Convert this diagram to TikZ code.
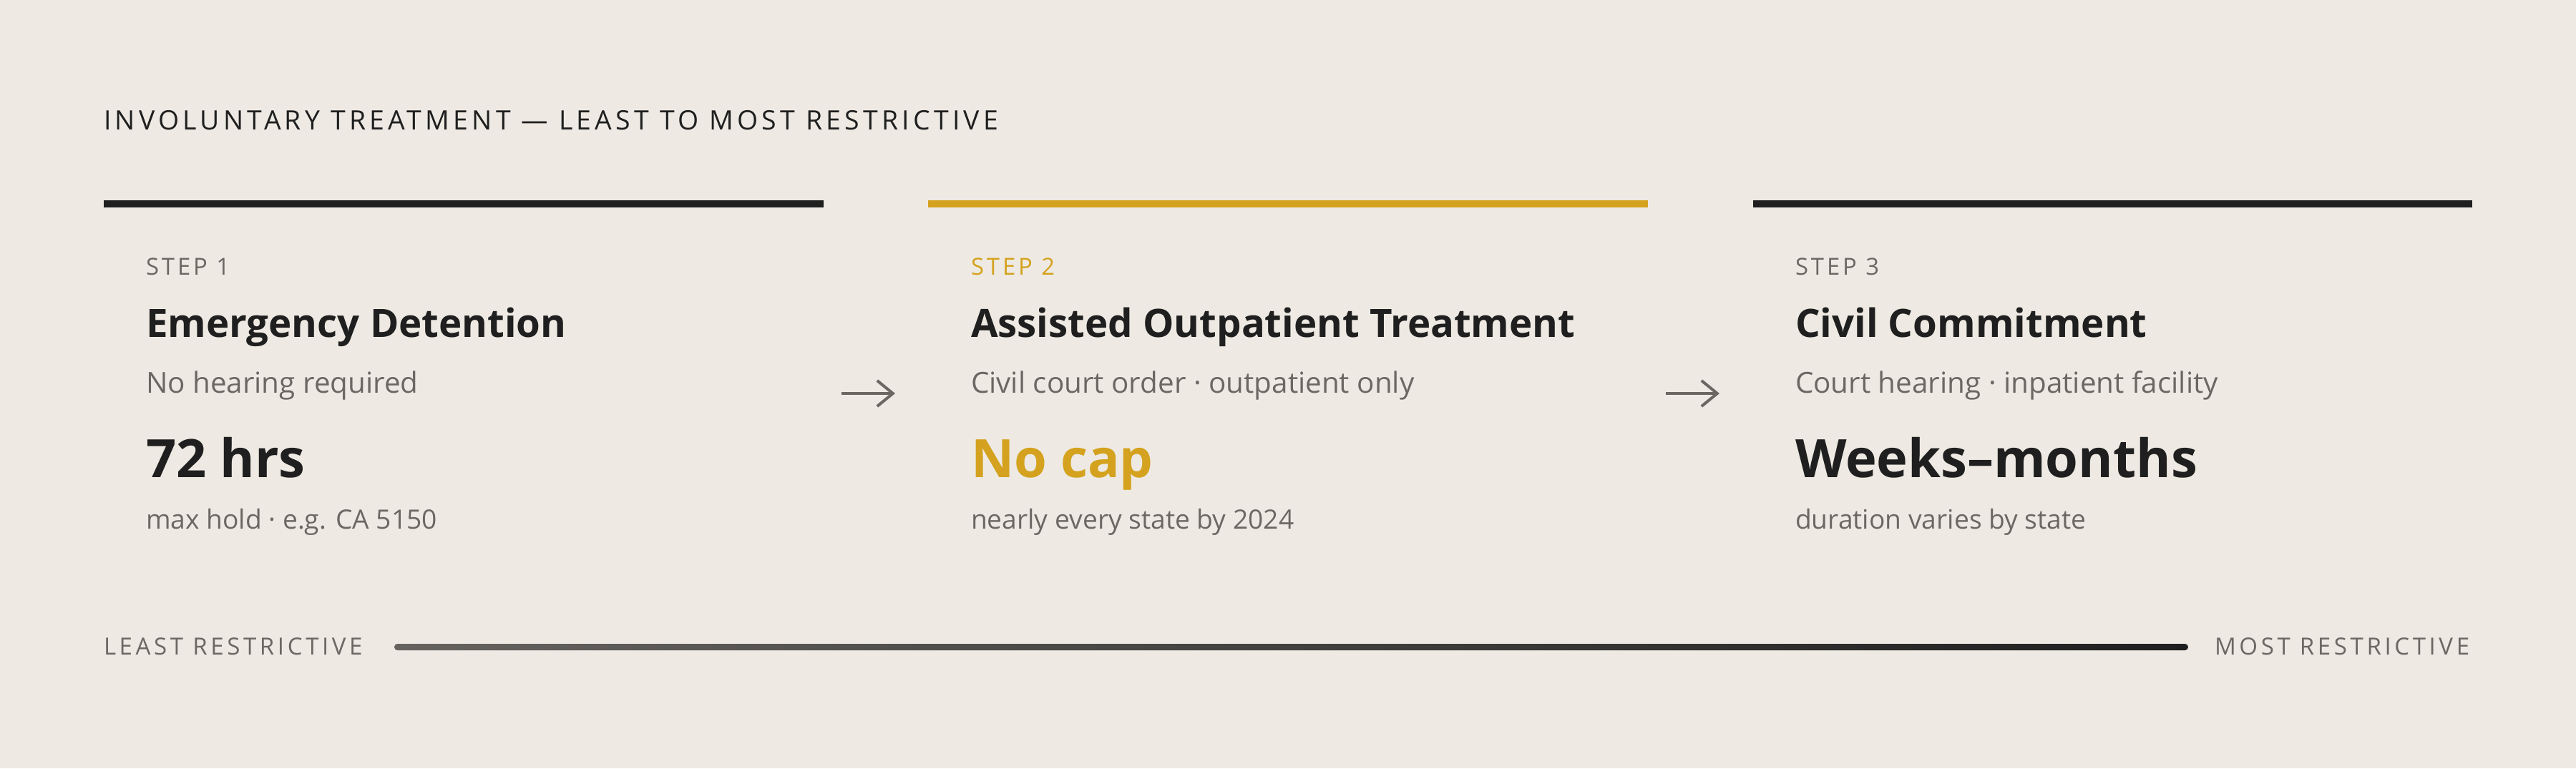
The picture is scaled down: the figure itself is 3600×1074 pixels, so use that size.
\documentclass[tikz,border=0pt]{standalone}
\usepackage{fontspec}
\setmainfont{Open Sans}
\newfontfamily\trackedfont[LetterSpace=14]{Open Sans}
\newfontfamily\steptrack[LetterSpace=12]{Open Sans}
\usetikzlibrary{arrows.meta}
\definecolor{paper}{HTML}{EEEAE3}
\definecolor{ink}{HTML}{1F1F1F}
\definecolor{ochre}{HTML}{D4A21E}
\definecolor{slate}{HTML}{6B6762}
\definecolor{scalefrom}{HTML}{66635F}
\tikzset{
  every node/.style={inner sep=0pt, outer sep=0pt},
  heading/.style={anchor=base west, text=ink, font=\trackedfont\fontsize{9.35pt}{11pt}\selectfont},
  steptag/.style={anchor=base west, text=slate, font=\steptrack\fontsize{8.2pt}{10pt}\selectfont},
  steptitle/.style={anchor=base west, text=ink, font=\bfseries\fontsize{13.65pt}{16pt}\selectfont},
  stepsub/.style={anchor=base west, text=slate, font=\fontsize{10.1pt}{12pt}\selectfont},
  stepvalue/.style={anchor=base west, text=ink, font=\bfseries\fontsize{18.5pt}{22pt}\selectfont},
  stepnote/.style={anchor=base west, text=slate, font=\fontsize{9.3pt}{11pt}\selectfont},
  scaletag/.style={anchor=base west, text=slate, font=\trackedfont\fontsize{8.25pt}{10pt}\selectfont},
  steparrow/.style={slate, line width=1pt, -{Straight Barb[length=5.5pt,width=9pt]}},
}
\begin{document}
\begin{tikzpicture}[x=0.25pt, y=-0.25pt]
  \fill[paper] (0,0) rectangle (3600,1074);
  \useasboundingbox (0,0) rectangle (3600,1074);
  \node[heading] (title) at (145,181) {INVOLUNTARY TREATMENT — LEAST TO MOST RESTRICTIVE};
  % top rules
  \fill[ink] (145,280) rectangle (1151,290);
  \fill[ochre] (1297,280) rectangle (2303,290);
  \fill[ink] (2450,280) rectangle (3455,290);
  % step 1
  \node[steptag] (tag1) at (204,384) {STEP 1};
  \node[steptitle] (head1) at (204,471) {Emergency Detention};
  \node[stepsub] (sub1) at (204,549) {No hearing required};
  \node[stepvalue] (val1) at (204,667) {72 hrs};
  \node[stepnote] (note1) at (204,739) {max hold · e.g. CA 5150};
  % step 2
  \node[steptag, text=ochre] (tag2) at (1357,384) {STEP 2};
  \node[steptitle] (head2) at (1357,471) {Assisted Outpatient Treatment};
  \node[stepsub] (sub2) at (1357,549) {Civil court order · outpatient only};
  \node[stepvalue, text=ochre] (val2) at (1357,667) {No cap};
  \node[stepnote] (note2) at (1357,739) {nearly every state by 2024};
  % step 3
  \node[steptag] (tag3) at (2509,384) {STEP 3};
  \node[steptitle] (head3) at (2509,471) {Civil Commitment};
  \node[stepsub] (sub3) at (2509,549) {Court hearing · inpatient facility};
  \node[stepvalue] (val3) at (2509,667) {Weeks–months};
  \node[stepnote] (note3) at (2509,739) {duration varies by state};
  % arrows between steps
  \coordinate (arr1a) at (1176,550);
  \coordinate (arr1b) at (1251,550);
  \coordinate (arr2a) at (2328,550);
  \coordinate (arr2b) at (2403,550);
  \draw[steparrow] (arr1a) -- (arr1b);
  \draw[steparrow] (arr2a) -- (arr2b);
  % restrictiveness scale
  \node[scaletag] (least) at (145,915) {LEAST RESTRICTIVE};
  \node[scaletag] (most) at (3095,915) {MOST RESTRICTIVE};
  \coordinate (scaleL) at (551,900);
  \coordinate (scaleR) at (3058,909);
  \shade[left color=scalefrom, right color=ink, rounded corners=1.1pt] (scaleL) rectangle (scaleR);
\end{tikzpicture}
\end{document}
